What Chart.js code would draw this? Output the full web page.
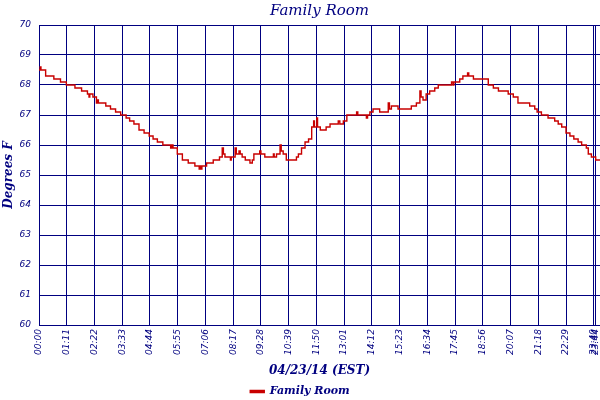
<!DOCTYPE html>
<html>
<head>
<meta charset="utf-8">
<script src="https://cdn.jsdelivr.net/npm/chart.js@4.4.1/dist/chart.umd.min.js"></script>
<style>
    html, body { margin: 0; padding: 0; background: #fff; }
    #wrap { width: 600px; height: 400px; }
</style>
</head>
<body>
<div id="wrap"><canvas id="chart"></canvas></div>
<script>
// minutes since midnight, 04/23/14 (EST)
const minutes = [
    0, 3, 5, 17, 38, 55, 70, 92, 109, 124, 128, 130, 138, 147, 150, 152,
    171, 183, 196, 209, 223, 232, 243, 256, 269, 282, 292, 303, 317, 337, 340, 343,
    354, 367, 382, 399, 410, 412, 415, 417, 429, 446, 462, 469, 472, 476, 490, 492,
    502, 505, 512, 515, 520, 528, 540, 546, 550, 565, 568, 578, 600, 602, 608, 617,
    620, 625, 633, 659, 664, 672, 681, 690, 698, 703, 705, 711, 713, 720, 735, 745,
    766, 770, 779, 788, 813, 816, 838, 841, 847, 855, 872, 894, 897, 902, 919, 953,
    966, 975, 978, 983, 991, 1000, 1013, 1022, 1056, 1060, 1062, 1077, 1085, 1097, 1100, 1112,
    1150, 1163, 1176, 1201, 1214, 1226, 1256, 1269, 1275, 1286, 1303, 1320, 1329, 1338, 1349, 1359,
    1369, 1380, 1389, 1401, 1406, 1414, 1425, 1436
];
// Family Room temperature, degrees F
const familyRoom = [
    68.5, 68.6, 68.5, 68.3, 68.2, 68.1, 68.0, 67.9, 67.8, 67.7, 67.6, 67.7, 67.6, 67.4, 67.5, 67.4,
    67.3, 67.2, 67.1, 67.0, 66.9, 66.8, 66.7, 66.5, 66.4, 66.3, 66.2, 66.1, 66.0, 65.9, 66.0, 65.9,
    65.7, 65.5, 65.4, 65.3, 65.2, 65.3, 65.2, 65.3, 65.4, 65.5, 65.6, 65.9, 65.7, 65.6, 65.5, 65.6,
    65.9, 65.7, 65.8, 65.7, 65.6, 65.5, 65.4, 65.5, 65.7, 65.8, 65.7, 65.6, 65.7, 65.6, 65.7, 66.0,
    65.8, 65.7, 65.5, 65.6, 65.7, 65.9, 66.1, 66.2, 66.6, 66.8, 66.6, 66.9, 66.6, 66.5, 66.6, 66.7,
    66.8, 66.7, 66.8, 67.0, 67.1, 67.0, 66.9, 67.0, 67.1, 67.2, 67.1, 67.4, 67.2, 67.3, 67.2, 67.3,
    67.4, 67.8, 67.6, 67.5, 67.7, 67.8, 67.9, 68.0, 68.1, 68.0, 68.1, 68.2, 68.3, 68.4, 68.3, 68.2,
    68.0, 67.9, 67.8, 67.7, 67.6, 67.4, 67.3, 67.2, 67.1, 67.0, 66.9, 66.8, 66.7, 66.6, 66.4, 66.3,
    66.2, 66.1, 66.0, 65.9, 65.7, 65.6, 65.5, 65.5
];

const tickMinutes = [0, 71, 142, 213, 284, 355, 426, 497, 568, 639, 710, 781, 852, 923, 994, 1065, 1136, 1207, 1278, 1349, 1420, 1424];
const tickLabels = ["00:00", "01:11", "02:22", "03:33", "04:44", "05:55", "07:06", "08:17", "09:28", "10:39", "11:50",
    "13:01", "14:12", "15:23", "16:34", "17:45", "18:56", "20:07", "21:18", "22:29", "23:40", "23:44"];

const NAVY = "#000080";
const RED = "#c80000";
const SERIF = "'DejaVu Serif', serif";

new Chart(document.getElementById("chart"), {
    type: "line",
    data: {
        datasets: [{
            label: "Family Room",
            data: minutes.map((m, i) => ({ x: m, y: familyRoom[i] })),
            stepped: true,
            borderColor: RED,
            backgroundColor: RED,
            borderWidth: 1.4,
            pointRadius: 0,
            fill: false,
        }],
    },
    options: {
        responsive: true,
        maintainAspectRatio: false,
        animation: false,
        devicePixelRatio: 1,
        layout: { padding: 0 },
        scales: {
            x: {
                type: "linear",
                min: 0,
                max: 1436,
                afterBuildTicks: (s) => { s.ticks = tickMinutes.map((v) => ({ value: v })); },
                afterFit: (s) => {
                    // let the plot run to the right edge like the original
                    s.height = 57;
                    s.paddingRight = 0;
                    s.paddingLeft = 0;
                },
                ticks: {
                    autoSkip: false,
                    minRotation: 90,
                    maxRotation: 90,
                    padding: 4,
                    color: NAVY,
                    font: { family: "'DejaVu Sans', sans-serif", size: 9, style: "italic" },
                    callback: (v, i) => tickLabels[i],
                },
                grid: { color: NAVY, lineWidth: 1, drawTicks: false },
                border: { color: NAVY, width: 1 },
                title: {
                    display: true,
                    text: "04/23/14 (EST)",
                    color: NAVY,
                    padding: { top: 0, bottom: 4 },
                    font: { family: SERIF, size: 12, style: "italic", weight: "bold" },
                },
            },
            y: {
                min: 60,
                max: 70,
                afterFit: (s) => { s.width = 39; },
                ticks: {
                    stepSize: 1,
                    padding: 8,
                    color: NAVY,
                    font: { family: "'DejaVu Sans', sans-serif", size: 9, style: "italic" },
                },
                grid: { color: NAVY, lineWidth: 1, drawTicks: false },
                border: { color: NAVY, width: 1 },
                title: {
                    display: true,
                    text: "Degrees F",
                    color: NAVY,
                    padding: { top: 2, bottom: 0 },
                    font: { family: SERIF, size: 12, style: "italic", weight: "bold" },
                },
            },
        },
        plugins: {
            title: {
                display: true,
                text: "Family Room",
                fullSize: false,
                color: NAVY,
                padding: { top: 2, bottom: 5 },
                font: { family: SERIF, size: 15, style: "italic", weight: "normal" },
            },
            legend: {
                position: "bottom",
                maxHeight: 18,
                labels: {
                    boxWidth: 14,
                    boxHeight: 2,
                    padding: 4,
                    color: NAVY,
                    font: { family: SERIF, size: 11, style: "italic", weight: "bold" },
                },
            },
            tooltip: { enabled: false },
        },
    },
});
</script>
</body>
</html>
